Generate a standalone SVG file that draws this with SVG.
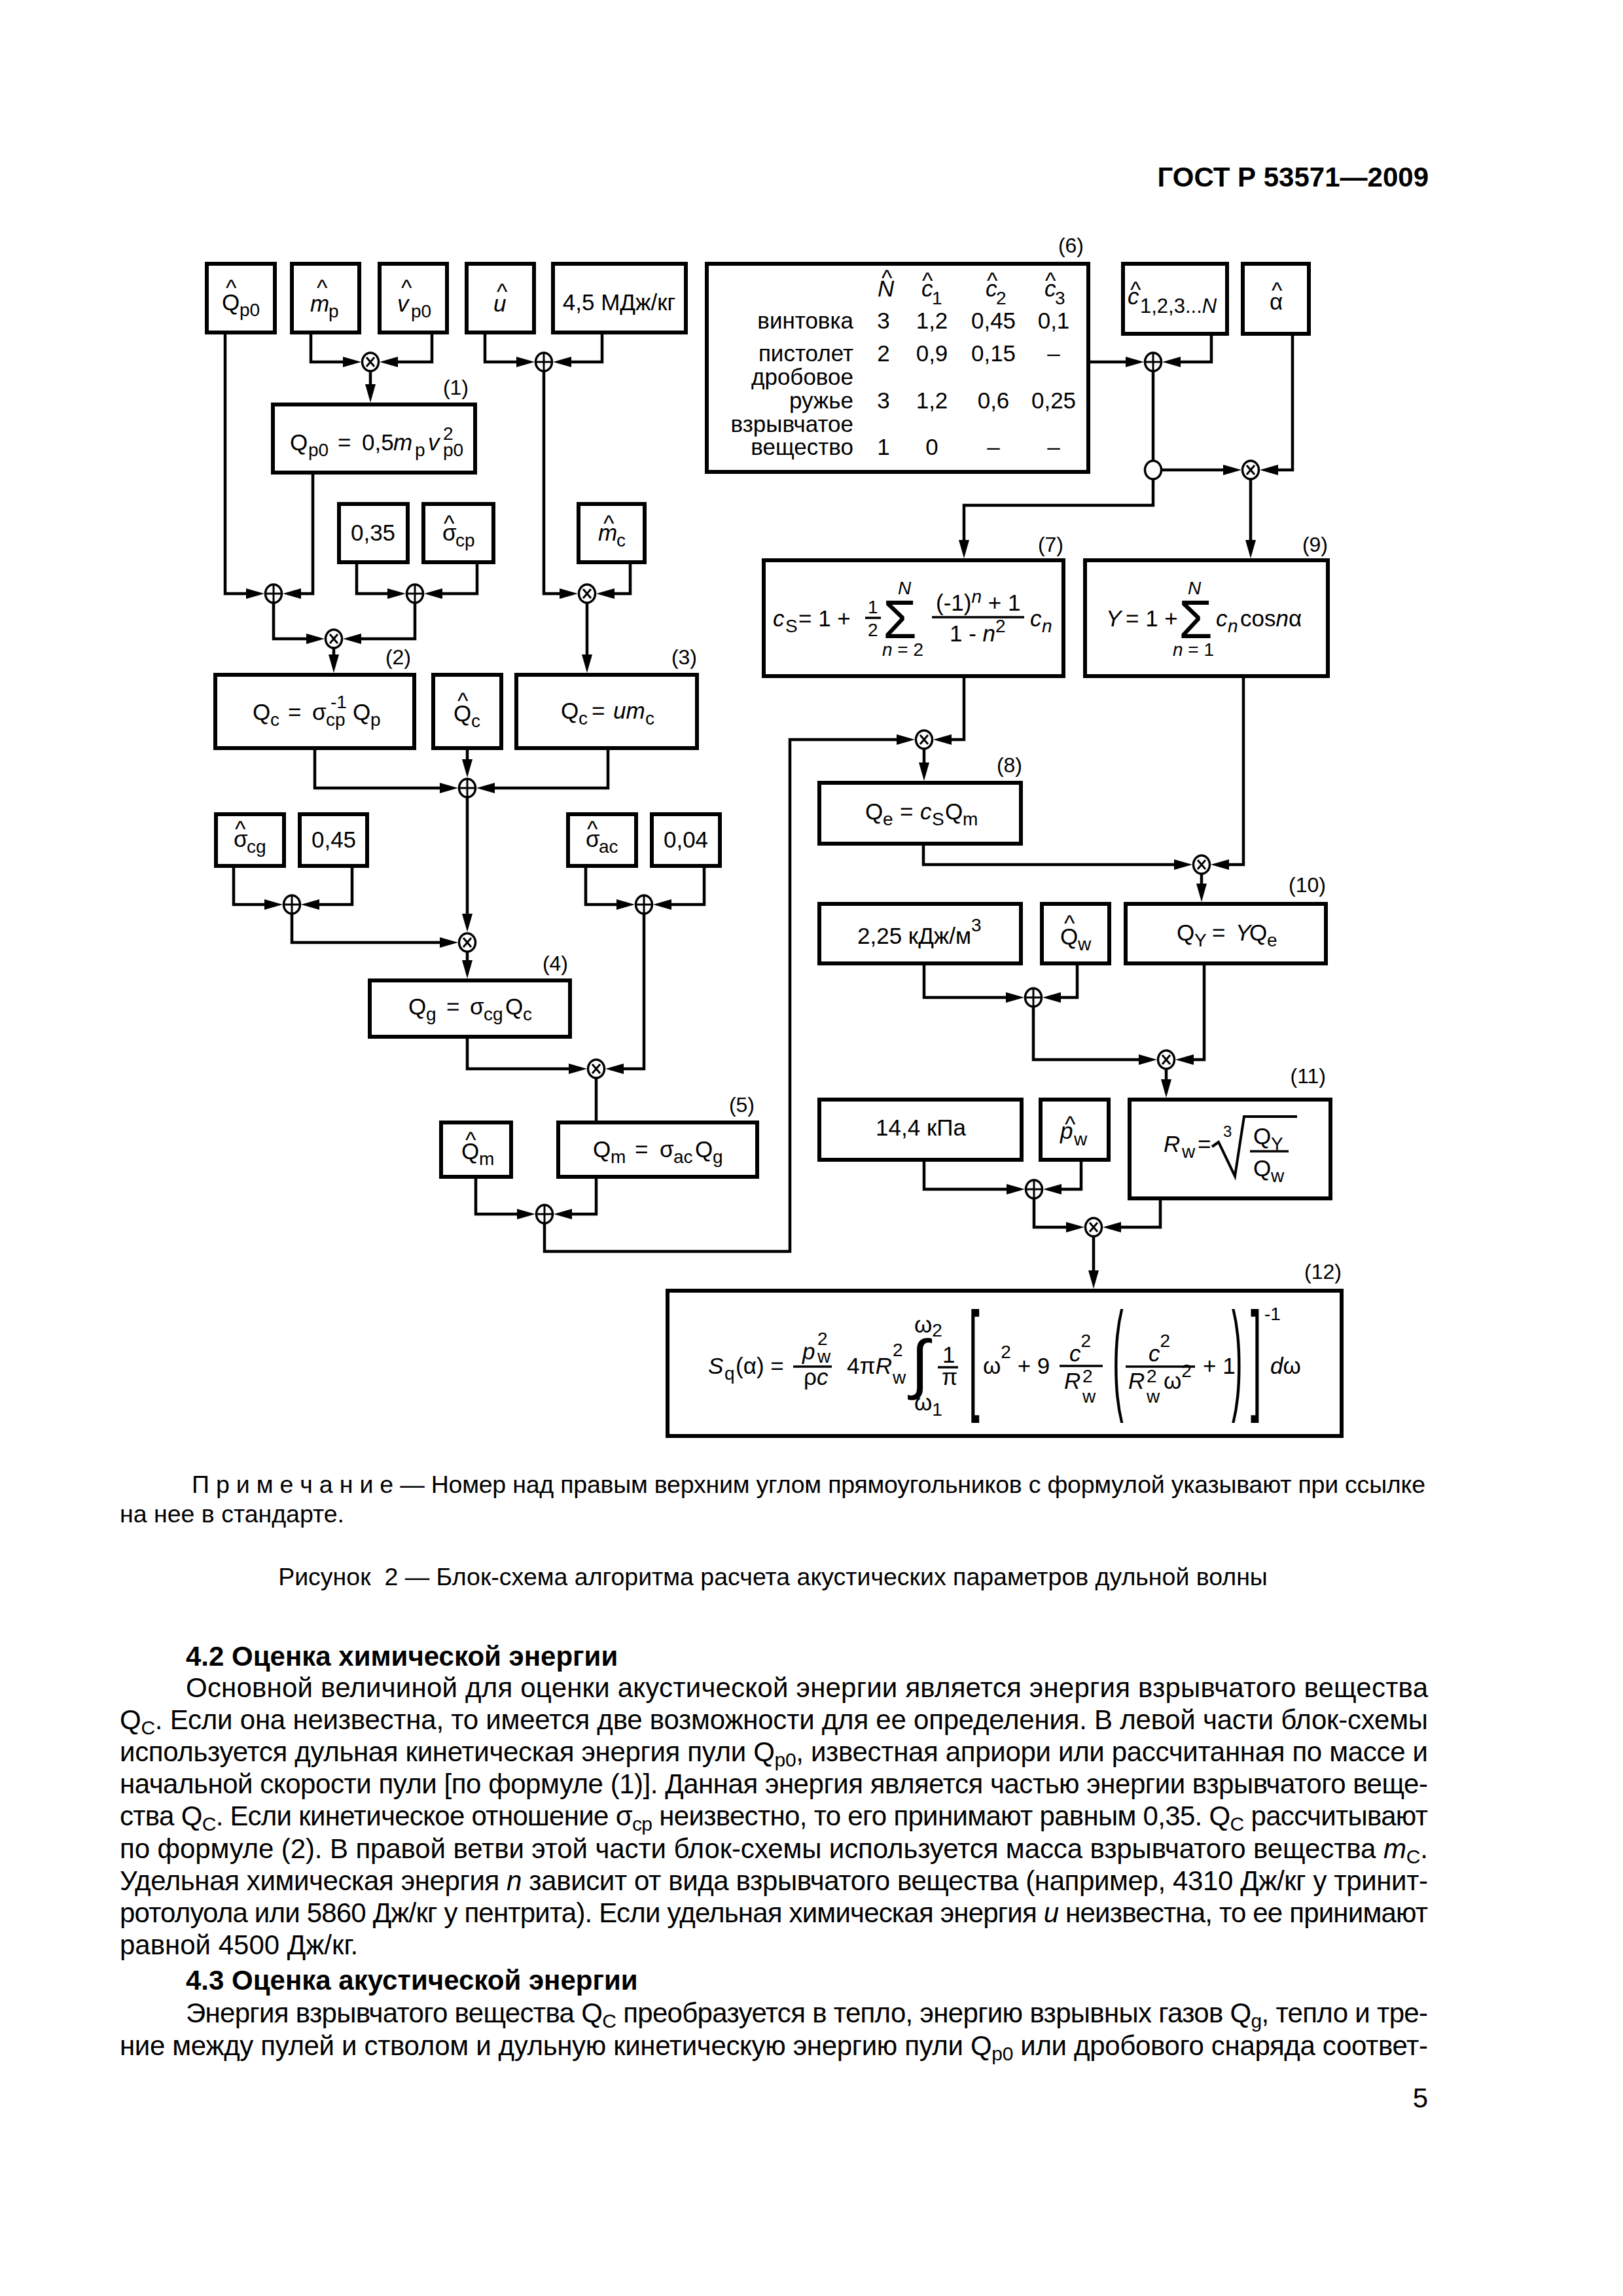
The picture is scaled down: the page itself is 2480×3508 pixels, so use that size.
<svg xmlns="http://www.w3.org/2000/svg" width="2480" height="3508" viewBox="0 0 2480 3508">
<style>
text{font-family:'Liberation Sans',Arial,sans-serif;fill:#000}
.t{font-size:35px}
.s{font-size:28px}
.i{font-style:italic}
.lbl{font-size:32px}
.b{fill:#fff;stroke:#000;stroke-width:6}
.c{fill:none;stroke:#000;stroke-width:4.5;stroke-linejoin:miter}
.a{marker-end:url(#ah)}
.j{fill:#fff;stroke:#000;stroke-width:3.5}
.jl{fill:none;stroke:#000;stroke-width:3}
.bar{stroke:#000;stroke-width:3.5}
.bt{font-size:42px}
.bs{font-size:30px}
.hd{font-size:42px;font-weight:bold}
.nt{font-size:37.5px}
</style>
<defs>
<marker id="ah" viewBox="0 0 28 16" markerWidth="28" markerHeight="16" refX="8" refY="8" orient="auto" markerUnits="userSpaceOnUse"><path d="M0,0 L28,8 L0,16 z" fill="#000"/></marker>
<g id="plus"><ellipse class="j" rx="12.5" ry="14"/><path class="jl" d="M-12.5,0H12.5M0,-14V14"/></g>
<g id="times"><ellipse class="j" rx="12.5" ry="14"/><path class="jl" d="M-6,-7L6,7M6,-7L-6,7"/></g>
<g id="ring"><ellipse class="j" rx="12.5" ry="14"/></g>
</defs>
<rect width="2480" height="3508" fill="#fff"/>
<text class="hd" x="2183" y="285" text-anchor="end">ГОСТ Р 53571—2009</text>

<g id="connectors">
<path class="c a" d="M475,508V553H532"/>
<path class="c a" d="M660,508V553H600"/>
<path class="c a" d="M566,567V595"/>
<path class="c a" d="M741,508V553H797"/>
<path class="c a" d="M920,508V553H865"/>
<path class="c a" d="M831,567V907H863"/>
<path class="c a" d="M344,508V907H384"/>
<path class="c a" d="M478,722V907H452"/>
<path class="c a" d="M545,859V907H600"/>
<path class="c a" d="M729,859V907H668"/>
<path class="c a" d="M963,859V907H931"/>
<path class="c a" d="M418,921V976H476"/>
<path class="c a" d="M634,921V976H544"/>
<path class="c a" d="M510,990V1008"/>
<path class="c a" d="M897,921V1008"/>
<path class="c a" d="M481,1143V1204H680"/>
<path class="c a" d="M714,1143V1168"/>
<path class="c a" d="M929,1143V1204H748"/>
<path class="c a" d="M714,1218V1404"/>
<path class="c a" d="M357,1323V1382H412"/>
<path class="c a" d="M538,1323V1382H480"/>
<path class="c a" d="M446,1396V1440H680"/>
<path class="c a" d="M895,1323V1382H950"/>
<path class="c a" d="M1076,1323V1382H1018"/>
<path class="c a" d="M714,1454V1475"/>
<path class="c a" d="M714,1584V1633H877"/>
<path class="c a" d="M984,1396V1633H945"/>
<path class="c" d="M911,1647V1715"/>
<path class="c a" d="M727,1798V1855H798"/>
<path class="c a" d="M911,1798V1855H866"/>
<path class="c a" d="M832,1869V1912H1207V1130H1378"/>
<path class="c a" d="M1663,553H1728"/>
<path class="c a" d="M1851,510V553H1796"/>
<path class="c" d="M1762,567V704"/>
<path class="c a" d="M1776,718H1877"/>
<path class="c a" d="M1975,510V718H1945"/>
<path class="c a" d="M1762,732V772H1473V833"/>
<path class="c a" d="M1911,732V833"/>
<path class="c a" d="M1473,1033V1130H1446"/>
<path class="c a" d="M1412,1144V1173"/>
<path class="c a" d="M1411,1289V1321H1802"/>
<path class="c a" d="M1900,1033V1321H1870"/>
<path class="c a" d="M1836,1335V1358"/>
<path class="c a" d="M1412,1472V1524H1545"/>
<path class="c a" d="M1646,1472V1524H1613"/>
<path class="c a" d="M1579,1538V1619H1748"/>
<path class="c a" d="M1840,1472V1619H1816"/>
<path class="c a" d="M1782,1633V1657"/>
<path class="c a" d="M1412,1772V1817H1546"/>
<path class="c a" d="M1652,1772V1817H1614"/>
<path class="c a" d="M1580,1831V1875H1637"/>
<path class="c a" d="M1773,1831V1875H1705"/>
<path class="c a" d="M1671,1889V1949"/>
</g>

<g id="junctions">
<use href="#times" x="566" y="553"/>
<use href="#plus" x="831" y="553"/>
<use href="#plus" x="418" y="907"/>
<use href="#plus" x="634" y="907"/>
<use href="#times" x="897" y="907"/>
<use href="#times" x="510" y="976"/>
<use href="#plus" x="714" y="1204"/>
<use href="#times" x="714" y="1440"/>
<use href="#plus" x="446" y="1382"/>
<use href="#plus" x="984" y="1382"/>
<use href="#times" x="911" y="1633"/>
<use href="#plus" x="832" y="1855"/>
<use href="#times" x="1412" y="1130"/>
<use href="#plus" x="1762" y="553"/>
<use href="#ring" x="1762" y="718"/>
<use href="#times" x="1911" y="718"/>
<use href="#times" x="1836" y="1321"/>
<use href="#plus" x="1579" y="1524"/>
<use href="#times" x="1782" y="1619"/>
<use href="#plus" x="1580" y="1817"/>
<use href="#times" x="1671" y="1875"/>
</g>

<g id="n-Qp0hat"><rect class="b" x="316" y="403" width="104" height="105"/>
<text class="t" x="339" y="474">Q<tspan class="s" x="366" y="483">p0</tspan><tspan x="345" y="452">^</tspan></text></g>
<g id="n-mphat"><rect class="b" x="446" y="403" width="103" height="105"/>
<text class="t" x="474" y="476"><tspan class="i">m</tspan><tspan class="s" x="502" y="485">p</tspan><tspan x="484" y="452">^</tspan></text></g>
<g id="n-vp0hat"><rect class="b" x="580" y="403" width="103" height="105"/>
<text class="t" x="607" y="476"><tspan class="i">v</tspan><tspan class="s" x="628" y="485">p0</tspan><tspan x="613" y="452">^</tspan></text></g>
<g id="n-uhat"><rect class="b" x="713" y="403" width="103" height="105"/>
<text class="t" x="754" y="476"><tspan class="i">u</tspan><tspan x="759" y="458">^</tspan></text></g>
<g id="n-45"><rect class="b" x="845" y="403" width="203" height="105"/>
<text class="t" x="946" y="474" text-anchor="middle">4,5 МДж/кг</text></g>

<g id="n-table6"><rect class="b" x="1080" y="403" width="583" height="318"/>
<text class="lbl" x="1656" y="386" text-anchor="end">(6)</text>
<text class="t" x="1341" y="453"><tspan class="i">N</tspan><tspan x="1347" y="437">^</tspan></text>
<text class="t" x="1408" y="453"><tspan class="i">c</tspan><tspan class="s" x="1424" y="465">1</tspan><tspan x="1409" y="441">^</tspan></text>
<text class="t" x="1506" y="453"><tspan class="i">c</tspan><tspan class="s" x="1522" y="465">2</tspan><tspan x="1508" y="441">^</tspan></text>
<text class="t" x="1596" y="453"><tspan class="i">c</tspan><tspan class="s" x="1612" y="465">3</tspan><tspan x="1597" y="441">^</tspan></text>
<g text-anchor="end">
<text class="t" x="1304" y="502">винтовка</text>
<text class="t" x="1304" y="552">пистолет</text>
<text class="t" x="1304" y="588">дробовое</text>
<text class="t" x="1304" y="624">ружье</text>
<text class="t" x="1304" y="660">взрывчатое</text>
<text class="t" x="1304" y="695">вещество</text>
</g>
<g text-anchor="middle">
<text class="t" x="1350" y="502">3</text><text class="t" x="1424" y="502">1,2</text><text class="t" x="1518" y="502">0,45</text><text class="t" x="1610" y="502">0,1</text>
<text class="t" x="1350" y="552">2</text><text class="t" x="1424" y="552">0,9</text><text class="t" x="1518" y="552">0,15</text><text class="t" x="1610" y="552">–</text>
<text class="t" x="1350" y="624">3</text><text class="t" x="1424" y="624">1,2</text><text class="t" x="1518" y="624">0,6</text><text class="t" x="1610" y="624">0,25</text>
<text class="t" x="1350" y="695">1</text><text class="t" x="1424" y="695">0</text><text class="t" x="1518" y="695">–</text><text class="t" x="1610" y="695">–</text>
</g></g>

<g id="n-chat"><rect class="b" x="1716" y="403" width="159" height="107"/>
<text class="t" x="1723" y="465"><tspan class="i">c</tspan><tspan x="1727" y="455">^</tspan><tspan x="1742" y="478" style="font-size:31px">1,2,3...<tspan class="i">N</tspan></tspan></text></g>
<g id="n-alphahat"><rect class="b" x="1899" y="403" width="101" height="107"/>
<text class="t" x="1940" y="473">α<tspan x="1943" y="456">^</tspan></text></g>

<g id="n-f1"><rect class="b" x="417" y="618" width="309" height="104"/>
<text class="lbl" x="716" y="603" text-anchor="end">(1)</text>
<text class="t" x="443" y="688">Q<tspan class="s" x="471" y="697">p0</tspan><tspan x="516" y="688">=</tspan><tspan x="553" y="688">0,5</tspan><tspan class="i" x="601" y="688">m</tspan><tspan class="s" x="634" y="697">p</tspan><tspan class="i" x="654" y="688">v</tspan><tspan class="s" x="677" y="672">2</tspan><tspan class="s" x="677" y="697">p0</tspan></text></g>

<g id="n-035"><rect class="b" x="518" y="770" width="105" height="89"/><text class="t" x="570" y="826" text-anchor="middle">0,35</text></g>
<g id="n-scphat"><rect class="b" x="647" y="770" width="107" height="89"/>
<text class="t" x="676" y="826">σ<tspan class="s" x="696" y="835">cp</tspan><tspan x="678" y="812">^</tspan></text></g>
<g id="n-mchat"><rect class="b" x="884" y="770" width="101" height="89"/>
<text class="t" x="914" y="826"><tspan class="i">m</tspan><tspan class="s" x="942" y="835">c</tspan><tspan x="922" y="812">^</tspan></text></g>

<g id="n-f2"><rect class="b" x="329" y="1031" width="304" height="112"/>
<text class="lbl" x="628" y="1015" text-anchor="end">(2)</text>
<text class="t" x="386" y="1100">Q<tspan class="s" x="413" y="1109">c</tspan><tspan x="440" y="1100">=</tspan><tspan x="477" y="1100">σ</tspan><tspan class="s" x="498" y="1109">cp</tspan><tspan class="s" x="505" y="1082">-1</tspan><tspan x="539" y="1100">Q</tspan><tspan class="s" x="566" y="1109">p</tspan></text></g>
<g id="n-Qchat"><rect class="b" x="662" y="1031" width="104" height="112"/>
<text class="t" x="693" y="1102">Q<tspan class="s" x="720" y="1111">c</tspan><tspan x="699" y="1083">^</tspan></text></g>
<g id="n-f3"><rect class="b" x="789" y="1031" width="276" height="112"/>
<text class="lbl" x="1065" y="1015" text-anchor="end">(3)</text>
<text class="t" x="857" y="1098">Q<tspan class="s" x="884" y="1107">c</tspan><tspan x="904" y="1098">=</tspan><tspan class="i" x="937" y="1098">um</tspan><tspan class="s" x="986" y="1107">c</tspan></text></g>

<g id="n-scghat"><rect class="b" x="330" y="1244" width="104" height="79"/>
<text class="t" x="357" y="1294">σ<tspan class="s" x="377" y="1303">cg</tspan><tspan x="359" y="1279">^</tspan></text></g>
<g id="n-045"><rect class="b" x="458" y="1244" width="103" height="79"/><text class="t" x="510" y="1295" text-anchor="middle">0,45</text></g>
<g id="n-sachat"><rect class="b" x="868" y="1244" width="104" height="79"/>
<text class="t" x="895" y="1294">σ<tspan class="s" x="915" y="1303">ac</tspan><tspan x="897" y="1279">^</tspan></text></g>
<g id="n-004"><rect class="b" x="996" y="1244" width="104" height="79"/><text class="t" x="1048" y="1295" text-anchor="middle">0,04</text></g>

<g id="n-f4"><rect class="b" x="565" y="1498" width="306" height="86"/>
<text class="lbl" x="868" y="1483" text-anchor="end">(4)</text>
<text class="t" x="624" y="1550">Q<tspan class="s" x="651" y="1559">g</tspan><tspan x="682" y="1550">=</tspan><tspan x="718" y="1550">σ</tspan><tspan class="s" x="739" y="1559">cg</tspan><tspan x="772" y="1550">Q</tspan><tspan class="s" x="799" y="1559">c</tspan></text></g>

<g id="n-Qmhat"><rect class="b" x="674" y="1715" width="107" height="83"/>
<text class="t" x="705" y="1771">Q<tspan class="s" x="732" y="1780">m</tspan><tspan x="711" y="1754">^</tspan></text></g>
<g id="n-f5"><rect class="b" x="853" y="1715" width="304" height="83"/>
<text class="lbl" x="1153" y="1699" text-anchor="end">(5)</text>
<text class="t" x="906" y="1768">Q<tspan class="s" x="933" y="1777">m</tspan><tspan x="970" y="1768">=</tspan><tspan x="1008" y="1768">σ</tspan><tspan class="s" x="1029" y="1777">ac</tspan><tspan x="1062" y="1768">Q</tspan><tspan class="s" x="1089" y="1777">g</tspan></text></g>

<g id="n-f7"><rect class="b" x="1167" y="856" width="458" height="177"/>
<text class="lbl" x="1625" y="843" text-anchor="end">(7)</text>
<text class="t" x="1181" y="957"><tspan class="i">c</tspan><tspan class="s" x="1200" y="966">S</tspan><tspan x="1220" y="957">= 1 +</tspan><tspan class="s" x="1326" y="937">1</tspan><tspan class="s" x="1326" y="972">2</tspan><tspan x="1349" y="975" style="font-size:84px">Σ</tspan><tspan class="s i" x="1372" y="908">N</tspan><tspan class="s" x="1348" y="1002"><tspan class="i">n</tspan> = 2</tspan><tspan x="1430" y="933">(-1)</tspan><tspan class="s i" dy="-12">n</tspan><tspan dy="12"> + 1</tspan><tspan x="1451" y="980">1 - </tspan><tspan class="i">n</tspan><tspan class="s" dy="-14">2</tspan><tspan class="i" x="1574" y="957">c</tspan><tspan class="s i" x="1592" y="966">n</tspan></text>
<line class="bar" x1="1322" y1="944" x2="1346" y2="944"/>
<line class="bar" x1="1424" y1="943" x2="1565" y2="943"/></g>

<g id="n-f9"><rect class="b" x="1658" y="856" width="371" height="177"/>
<text class="lbl" x="2029" y="843" text-anchor="end">(9)</text>
<text class="t" x="1690" y="957"><tspan class="i">Y</tspan><tspan x="1720" y="957">= 1 +</tspan><tspan x="1801" y="975" style="font-size:84px">Σ</tspan><tspan class="s i" x="1815" y="908">N</tspan><tspan class="s" x="1792" y="1002"><tspan class="i">n</tspan> = 1</tspan><tspan class="i" x="1858" y="957">c</tspan><tspan class="s i" x="1876" y="966">n</tspan><tspan x="1895" y="957">cos</tspan><tspan class="i">n</tspan>α</text></g>

<g id="n-f8"><rect class="b" x="1252" y="1196" width="308" height="93"/>
<text class="lbl" x="1562" y="1180" text-anchor="end">(8)</text>
<text class="t" x="1322" y="1252">Q<tspan class="s" x="1349" y="1261">e</tspan><tspan x="1375" y="1252">=</tspan><tspan class="i" x="1406" y="1252">c</tspan><tspan class="s" x="1424" y="1261">S</tspan><tspan x="1444" y="1252">Q</tspan><tspan class="s" x="1471" y="1261">m</tspan></text></g>

<g id="n-225"><rect class="b" x="1252" y="1381" width="308" height="91"/>
<text class="t" x="1310" y="1442">2,25 кДж/м<tspan class="s" dy="-19">3</tspan></text></g>
<g id="n-Qwhat"><rect class="b" x="1592" y="1381" width="103" height="91"/>
<text class="t" x="1620" y="1443">Q<tspan class="s" x="1647" y="1452">w</tspan><tspan x="1626" y="1423">^</tspan></text></g>
<g id="n-f10"><rect class="b" x="1720" y="1381" width="306" height="91"/>
<text class="lbl" x="2026" y="1363" text-anchor="end">(10)</text>
<text class="t" x="1798" y="1437">Q<tspan class="s" x="1825" y="1446">Y</tspan><tspan x="1852" y="1437">=</tspan><tspan class="i" x="1888" y="1437">Y</tspan><tspan x="1909" y="1437">Q</tspan><tspan class="s" x="1936" y="1446">e</tspan></text></g>

<g id="n-144"><rect class="b" x="1252" y="1680" width="309" height="92"/>
<text class="t" x="1407" y="1735" text-anchor="middle">14,4 кПа</text></g>
<g id="n-pwhat"><rect class="b" x="1590" y="1680" width="104" height="92"/>
<text class="t" x="1620" y="1740"><tspan class="i">p</tspan><tspan class="s" x="1641" y="1750">w</tspan><tspan x="1627" y="1730">^</tspan></text></g>
<g id="n-f11"><rect class="b" x="1726" y="1680" width="307" height="151"/>
<text class="lbl" x="2026" y="1655" text-anchor="end">(11)</text>
<text class="t" x="1778" y="1760"><tspan class="i">R</tspan><tspan class="s" x="1806" y="1769">w</tspan><tspan x="1830" y="1760">=</tspan><tspan x="1869" y="1737" style="font-size:24px">3</tspan><tspan x="1915" y="1748">Q</tspan><tspan class="s" x="1942" y="1757">Y</tspan><tspan x="1915" y="1797">Q</tspan><tspan class="s" x="1942" y="1806">w</tspan></text>
<polyline points="1852,1752 1862,1745 1887,1797 1901,1706 1982,1706" fill="none" stroke="#000" stroke-width="4"/>
<line class="bar" x1="1910" y1="1759" x2="1969" y2="1759"/></g>

<g id="n-f12"><rect class="b" x="1020" y="1972" width="1030" height="222"/>
<text class="lbl" x="2050" y="1954" text-anchor="end">(12)</text>
<text class="t" x="1082" y="2099"><tspan class="i">S</tspan><tspan class="s" x="1107" y="2108">q</tspan><tspan x="1124" y="2099">(α) =</tspan><tspan class="i" x="1226" y="2077">p</tspan><tspan class="s" x="1249" y="2055">2</tspan><tspan class="s" x="1249" y="2082">w</tspan><tspan x="1228" y="2116">ρ</tspan><tspan class="i">c</tspan><tspan x="1294" y="2099">4π</tspan><tspan class="i">R</tspan><tspan class="s" x="1364" y="2072">2</tspan><tspan class="s" x="1364" y="2114">w</tspan><tspan x="1392" y="2118" style="font-size:100px">∫</tspan><tspan x="1397" y="2036">ω</tspan><tspan class="s" dy="6">2</tspan><tspan x="1397" y="2155">ω</tspan><tspan class="s" dy="8">1</tspan><tspan x="1440" y="2082">1</tspan><tspan x="1439" y="2116">π</tspan><tspan x="1502" y="2099">ω</tspan><tspan class="s" dy="-24">2</tspan><tspan dy="24"> + 9</tspan><tspan class="i" x="1634" y="2080">c</tspan><tspan class="s" dy="-22">2</tspan><tspan class="i" x="1626" y="2122">R</tspan><tspan class="s" x="1654" y="2112">2</tspan><tspan class="s" x="1654" y="2143">w</tspan><tspan class="i" x="1755" y="2080">c</tspan><tspan class="s" dy="-22">2</tspan><tspan class="i" x="1724" y="2122">R</tspan><tspan class="s" x="1752" y="2112">2</tspan><tspan class="s" x="1752" y="2143">w</tspan><tspan x="1778" y="2122">ω</tspan><tspan class="s" dy="-18">2</tspan><tspan x="1838" y="2099">+ 1</tspan><tspan class="s" x="1932" y="2017">-1</tspan><tspan class="i" x="1941" y="2099">d</tspan>ω</text>
<line class="bar" x1="1212" y1="2088" x2="1271" y2="2088"/>
<line class="bar" x1="1433" y1="2089" x2="1464" y2="2089"/>
<line class="bar" x1="1619" y1="2087" x2="1685" y2="2087"/>
<line class="bar" x1="1720" y1="2088" x2="1826" y2="2088"/>
<text transform="translate(1480,2135) scale(0.6,1.85)" style="font-size:100px">[</text>
<text transform="translate(1700,2135) scale(0.5,1.85)" style="font-size:100px">(</text>
<text transform="translate(1882,2135) scale(0.5,1.85)" style="font-size:100px">)</text>
<text transform="translate(1911,2135) scale(0.6,1.85)" style="font-size:100px">]</text></g>

<g id="notes">
<text class="nt" x="293" y="2281" textLength="1885" lengthAdjust="spacing">П р и м е ч а н и е — Номер над правым верхним углом прямоугольников с формулой указывают при ссылке</text>
<text class="nt" x="183" y="2326">на нее в стандарте.</text>
<text class="nt" x="1181" y="2422" text-anchor="middle">Рисунок&#160; 2 — Блок-схема алгоритма расчета акустических параметров дульной волны</text>
</g>

<g id="body">
<text class="hd" x="284" y="2545">4.2 Оценка химической энергии</text>
<text class="bt" x="284" y="2593" textLength="1898" lengthAdjust="spacing">Основной величиной для оценки акустической энергии является энергия взрывчатого вещества</text>
<text class="bt" x="183" y="2642" textLength="1999" lengthAdjust="spacing">Q<tspan class="bs" dy="8">C</tspan><tspan dy="-8">. Если она неизвестна, то имеется две возможности для ее определения. В левой части блок-схемы</tspan></text>
<text class="bt" x="183" y="2691" textLength="1999" lengthAdjust="spacing">используется дульная кинетическая энергия пули Q<tspan class="bs" dy="8">p0</tspan><tspan dy="-8">, известная априори или рассчитанная по массе и</tspan></text>
<text class="bt" x="183" y="2740" textLength="1999" lengthAdjust="spacing">начальной скорости пули [по формуле (1)]. Данная энергия является частью энергии взрывчатого веще-</text>
<text class="bt" x="183" y="2789" textLength="1999" lengthAdjust="spacing">ства Q<tspan class="bs" dy="8">C</tspan><tspan dy="-8">. Если кинетическое отношение σ</tspan><tspan class="bs" dy="8">ср</tspan><tspan dy="-8"> неизвестно, то его принимают равным 0,35. Q</tspan><tspan class="bs" dy="8">C</tspan><tspan dy="-8"> рассчитывают</tspan></text>
<text class="bt" x="183" y="2839" textLength="1999" lengthAdjust="spacing">по формуле (2). В правой ветви этой части блок-схемы используется масса взрывчатого вещества <tspan class="i">m</tspan><tspan class="bs" dy="8">C</tspan><tspan dy="-8">.</tspan></text>
<text class="bt" x="183" y="2888" textLength="1999" lengthAdjust="spacing">Удельная химическая энергия <tspan class="i">n</tspan> зависит от вида взрывчатого вещества (например, 4310 Дж/кг у тринит-</text>
<text class="bt" x="183" y="2937" textLength="1999" lengthAdjust="spacing">ротолуола или 5860 Дж/кг у пентрита). Если удельная химическая энергия <tspan class="i">u</tspan> неизвестна, то ее принимают</text>
<text class="bt" x="183" y="2986">равной 4500 Дж/кг.</text>
<text class="hd" x="284" y="3040">4.3 Оценка акустической энергии</text>
<text class="bt" x="284" y="3090" textLength="1898" lengthAdjust="spacing">Энергия взрывчатого вещества Q<tspan class="bs" dy="8">C</tspan><tspan dy="-8"> преобразуется в тепло, энергию взрывных газов Q</tspan><tspan class="bs" dy="8">g</tspan><tspan dy="-8">, тепло и тре-</tspan></text>
<text class="bt" x="183" y="3140" textLength="1999" lengthAdjust="spacing">ние между пулей и стволом и дульную кинетическую энергию пули Q<tspan class="bs" dy="8">p0</tspan><tspan dy="-8"> или дробового снаряда соответ-</tspan></text>
<text class="bt" x="2182" y="3220" text-anchor="end">5</text>
</g>
</svg>
